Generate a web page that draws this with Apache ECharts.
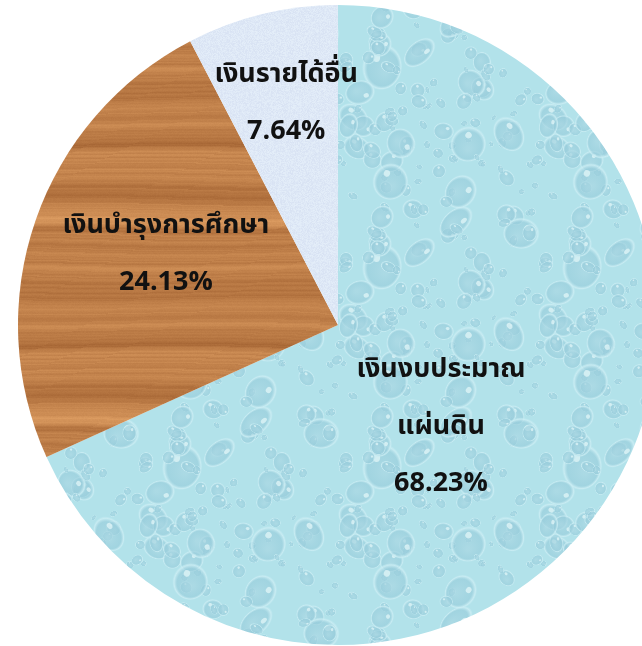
<!DOCTYPE html>
<html>
<head>
<meta charset="utf-8">
<script src="https://cdn.jsdelivr.net/npm/echarts@6/dist/echarts.min.js"></script>
<style>
html, body { margin: 0; padding: 0; background: #fff; }
#main { width: 642px; height: 646px; }
</style>
</head>
<body>
<div id="main"></div>
<script>
// data
var categories = ["เงินงบประมาณ\nแผ่นดิน", "เงินบำรุงการศึกษา", "เงินรายได้อื่น"];
var values = [68.23, 24.13, 7.64];

// style only: label nudges (px) so text sits where the original has it
var labelOffsets = [[-34, 15], [-18, -16], [-13, -62]];

function rng(seed) {
  return function () {
    seed = (seed * 16807) % 2147483647;
    return (seed - 1) / 2147483646;
  };
}

// light blue "water drops" texture
function waterTexture() {
  var w = 200, h = 200;
  var c = document.createElement("canvas");
  c.width = w; c.height = h;
  var ctx = c.getContext("2d");
  ctx.fillStyle = "#b2e2ea";
  ctx.fillRect(0, 0, w, h);
  var rnd = rng(12345);
  for (var i = 0; i < 120; i++) {
    var x = rnd() * w, y = rnd() * h;
    var r = 3 + rnd() * rnd() * 18;
    var sy = 0.6 + rnd() * 0.6;
    var rot = rnd() * Math.PI;
    for (var ox = -w; ox <= w; ox += w) {
      for (var oy = -h; oy <= h; oy += h) {
        var cx = x + ox, cy = y + oy;
        if (cx < -r || cx > w + r || cy < -r || cy > h + r) continue;
        ctx.save();
        ctx.translate(cx, cy);
        ctx.rotate(rot);
        ctx.scale(1, sy);
        var g = ctx.createRadialGradient(r * 0.2, r * 0.2, r * 0.1, 0, 0, r);
        g.addColorStop(0, "rgba(168,214,226,0.7)");
        g.addColorStop(0.75, "rgba(150,203,218,0.6)");
        g.addColorStop(0.92, "rgba(205,238,244,0.8)");
        g.addColorStop(1, "rgba(190,232,240,0.5)");
        ctx.fillStyle = g;
        ctx.beginPath();
        ctx.arc(0, 0, r, 0, Math.PI * 2);
        ctx.fill();
        ctx.fillStyle = "rgba(230,248,250,0.7)";
        ctx.beginPath();
        ctx.arc(-r * 0.35, -r * 0.35, r * 0.18, 0, Math.PI * 2);
        ctx.fill();
        ctx.restore();
      }
    }
  }
  return c;
}

// brown horizontal wood grain texture
function woodTexture() {
  var w = 320, h = 200;
  var c = document.createElement("canvas");
  c.width = w; c.height = h;
  var ctx = c.getContext("2d");
  var rnd = rng(777);
  var rows = [];
  var v = 0;
  for (var y = 0; y < h; y++) {
    v = v * 0.75 + (rnd() - 0.5) * 0.7;
    rows.push(v + 0.35 * Math.sin(y / 8) + 0.2 * Math.sin(y / 2.7));
  }
  var img = ctx.createImageData(w, h);
  for (var y2 = 0; y2 < h; y2++) {
    for (var x = 0; x < w; x++) {
      var yy = Math.floor(y2 + 1.5 * Math.sin(x / 60 + y2 / 30) + h) % h;
      var t = rows[yy] + (rnd() - 0.5) * 0.2;
      var k = (y2 * w + x) * 4;
      img.data[k] = 192 + t * 22;
      img.data[k + 1] = 128 + t * 22;
      img.data[k + 2] = 74 + t * 18;
      img.data[k + 3] = 255;
    }
  }
  ctx.putImageData(img, 0, 0);
  return c;
}

// pale lavender speckled texture
function paleTexture() {
  var w = 120, h = 120;
  var c = document.createElement("canvas");
  c.width = w; c.height = h;
  var ctx = c.getContext("2d");
  var rnd = rng(4242);
  var img = ctx.createImageData(w, h);
  for (var i = 0; i < w * h; i++) {
    var n = (rnd() - 0.5) * 12;
    img.data[i * 4] = 222 + n;
    img.data[i * 4 + 1] = 232 + n;
    img.data[i * 4 + 2] = 246 + n * 0.5;
    img.data[i * 4 + 3] = 255;
  }
  ctx.putImageData(img, 0, 0);
  return c;
}

var fills = [waterTexture(), woodTexture(), paleTexture()];

var myChart = echarts.init(document.getElementById("main"));
var pieData = [];
for (var i = 0; i < values.length; i++) {
  pieData.push({
    name: categories[i],
    value: values[i],
    itemStyle: { color: { image: fills[i], repeat: "repeat" } },
    label: { offset: labelOffsets[i] }
  });
}

var option = {
  animation: false,
  series: [
    {
      type: "pie",
      center: [338, 325],
      radius: 320,
      startAngle: 90,
      clockwise: true,
      data: pieData,
      itemStyle: { borderWidth: 0 },
      label: {
        show: true,
        position: "inside",
        formatter: function (p) {
          return p.name + "\n" + p.value.toFixed(2) + "%";
        },
        color: "#111",
        fontSize: 27,
        fontWeight: "bold",
        lineHeight: 57,
        fontFamily: "Tahoma, 'Noto Sans Thai', 'Noto Sans', sans-serif"
      },
      labelLine: { show: false },
      emphasis: { disabled: true }
    }
  ]
};
myChart.setOption(option);
window.addEventListener("resize", function () { myChart.resize(); });
</script>
</body>
</html>
